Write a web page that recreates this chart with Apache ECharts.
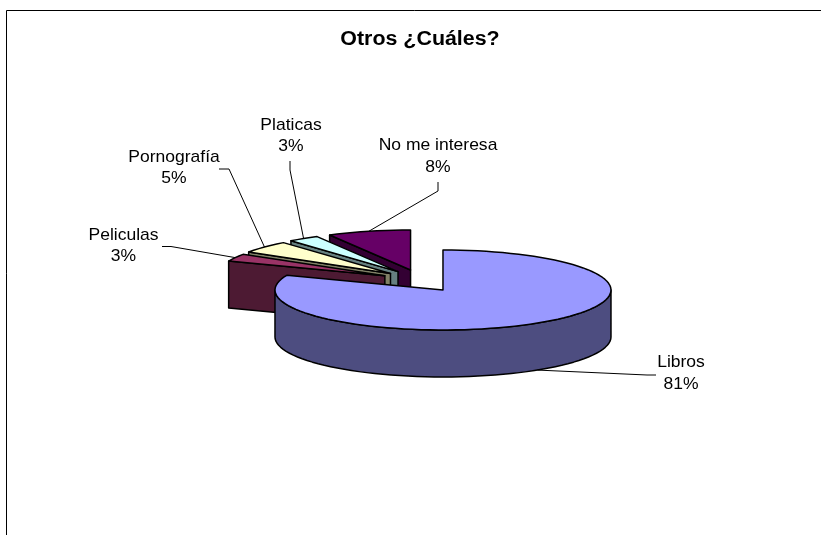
<!DOCTYPE html>
<html lang="es">
<head>
    <meta charset="UTF-8">
    <title>Otros ¿Cuáles?</title>
    <script src="https://cdn.jsdelivr.net/npm/echarts@6/dist/echarts.min.js"></script>
    <style>
        html, body { margin: 0; padding: 0; background: #fff; }
        #main { width: 821px; height: 535px; }
    </style>
</head>
<body>
<div id="main"></div>
<script type="text/javascript">
    // chart data
    var chartTitle = 'Otros ¿Cuáles?';
    var categories = ['Libros', 'Peliculas', 'Pornografía', 'Platicas', 'No me interesa'];
    var percents = [81, 3, 5, 3, 8];

    // colours of the top faces and of the darker sides
    var topColors = ['#9999ff', '#993366', '#ffffcc', '#ccffff', '#660066'];
    var sideColors = ['#4d4d80', '#4d1a33', '#808066', '#668080', '#330033'];

    // label centre and the fixed part of each leader line, same order as categories
    var labelCenters = [[681, 373.5], [123.5, 246], [174, 168], [291, 136], [438, 156.5]];
    var leaderStarts = [
        [[656, 375], [647, 375]],
        [[162, 246.5], [171, 246.5]],
        [[219, 169], [229, 169]],
        [[290, 161], [290, 170]],
        [[438, 182], [438, 191]]
    ];

    // projection of the tilted pie
    var pie = {cx: 420.5, cy: 280.8, rx: 168, ry: 40, depth: 47, explodeX: 40, explodeY: 11.1};
    var font = '17px "Liberation Sans", Arial, sans-serif';
    var textStretch = 1.03;

    function rad(deg) { return deg * Math.PI / 180; }

    function rim(c, deg, drop) {
        return [c[0] + pie.rx * Math.sin(rad(deg)), c[1] - pie.ry * Math.cos(rad(deg)) + (drop || 0)];
    }

    function arc(c, from, to, drop) {
        var pts = [];
        var steps = Math.max(2, Math.ceil((to - from) / 3));
        for (var i = 0; i <= steps; i++) {
            pts.push(rim(c, from + (to - from) * i / steps, drop));
        }
        return pts;
    }

    function face(points, fill, z2) {
        return {
            type: 'polygon',
            z2: z2,
            shape: {points: points},
            style: {fill: fill, stroke: '#000', lineWidth: 1.5, lineJoin: 'round'}
        };
    }

    function cutFace(c, deg, fill, z2) {
        var d = pie.depth;
        var edge = rim(c, deg);
        return face([c, edge, [edge[0], edge[1] + d], [c[0], c[1] + d]], fill, z2);
    }

    function renderSlice(params, api) {
        var i = api.value(0);
        var value = api.value(1);
        var total = 0, before = 0;
        for (var k = 0; k < percents.length; k++) {
            total += percents[k];
            if (k < i) before += percents[k];
        }
        var a = before / total * 360;
        var b = (before + value) / total * 360;
        var mid = (a + b) / 2;
        var c = [
            pie.cx + pie.explodeX * Math.sin(rad(mid)),
            pie.cy - pie.explodeY * Math.cos(rad(mid))
        ];
        var base = (percents.length - i) * 10;
        var children = [];

        // only the sides that look towards the viewer
        if (a > 180 && a < 360) children.push(cutFace(c, a, sideColors[i], base));
        if (b > 0 && b < 180) children.push(cutFace(c, b, sideColors[i], base));
        var wallFrom = Math.max(a, 90), wallTo = Math.min(b, 270);
        if (wallFrom < wallTo) {
            children.push(face(
                arc(c, wallFrom, wallTo, 0).concat(arc(c, wallFrom, wallTo, pie.depth).reverse()),
                sideColors[i], base + 1
            ));
        }
        children.push(face([c].concat(arc(c, a, b, 0)), topColors[i], base + 2));

        // leader line ends on the middle of the slice's outer edge
        var isFront = mid > 90 && mid < 270;
        children.push({
            type: 'polyline',
            z2: 200,
            shape: {points: leaderStarts[i].concat([rim(c, mid, isFront ? pie.depth : 0)])},
            style: {fill: null, stroke: '#000', lineWidth: 1}
        });

        children.push({
            type: 'text',
            z2: 201,
            x: labelCenters[i][0],
            y: labelCenters[i][1],
            scaleX: textStretch,
            style: {
                text: categories[i] + '\n' + value + '%',
                font: font,
                lineHeight: 21.5,
                fill: '#000',
                align: 'center',
                verticalAlign: 'middle'
            }
        });
        return {type: 'group', children: children};
    }

    var myChart = echarts.init(document.getElementById('main'), null, {renderer: 'canvas'});

    var option = {
        animation: false,
        backgroundColor: '#fff',
        graphic: [
            {
                type: 'rect',
                shape: {x: 6.5, y: 10.5, width: 830, height: 540},
                style: {fill: null, stroke: '#000', lineWidth: 1},
                silent: true,
                z: -1
            },
            {
                type: 'text',
                x: 420,
                y: 39,
                scaleX: 1.07,
                style: {
                    text: chartTitle,
                    font: 'bold 20px "Liberation Sans", Arial, sans-serif',
                    fill: '#000',
                    align: 'center',
                    verticalAlign: 'middle'
                }
            }
        ],
        series: [{
            type: 'custom',
            coordinateSystem: 'none',
            renderItem: renderSlice,
            data: percents.map(function (v, i) { return [i, v]; })
        }]
    };

    myChart.setOption(option);
</script>
</body>
</html>
